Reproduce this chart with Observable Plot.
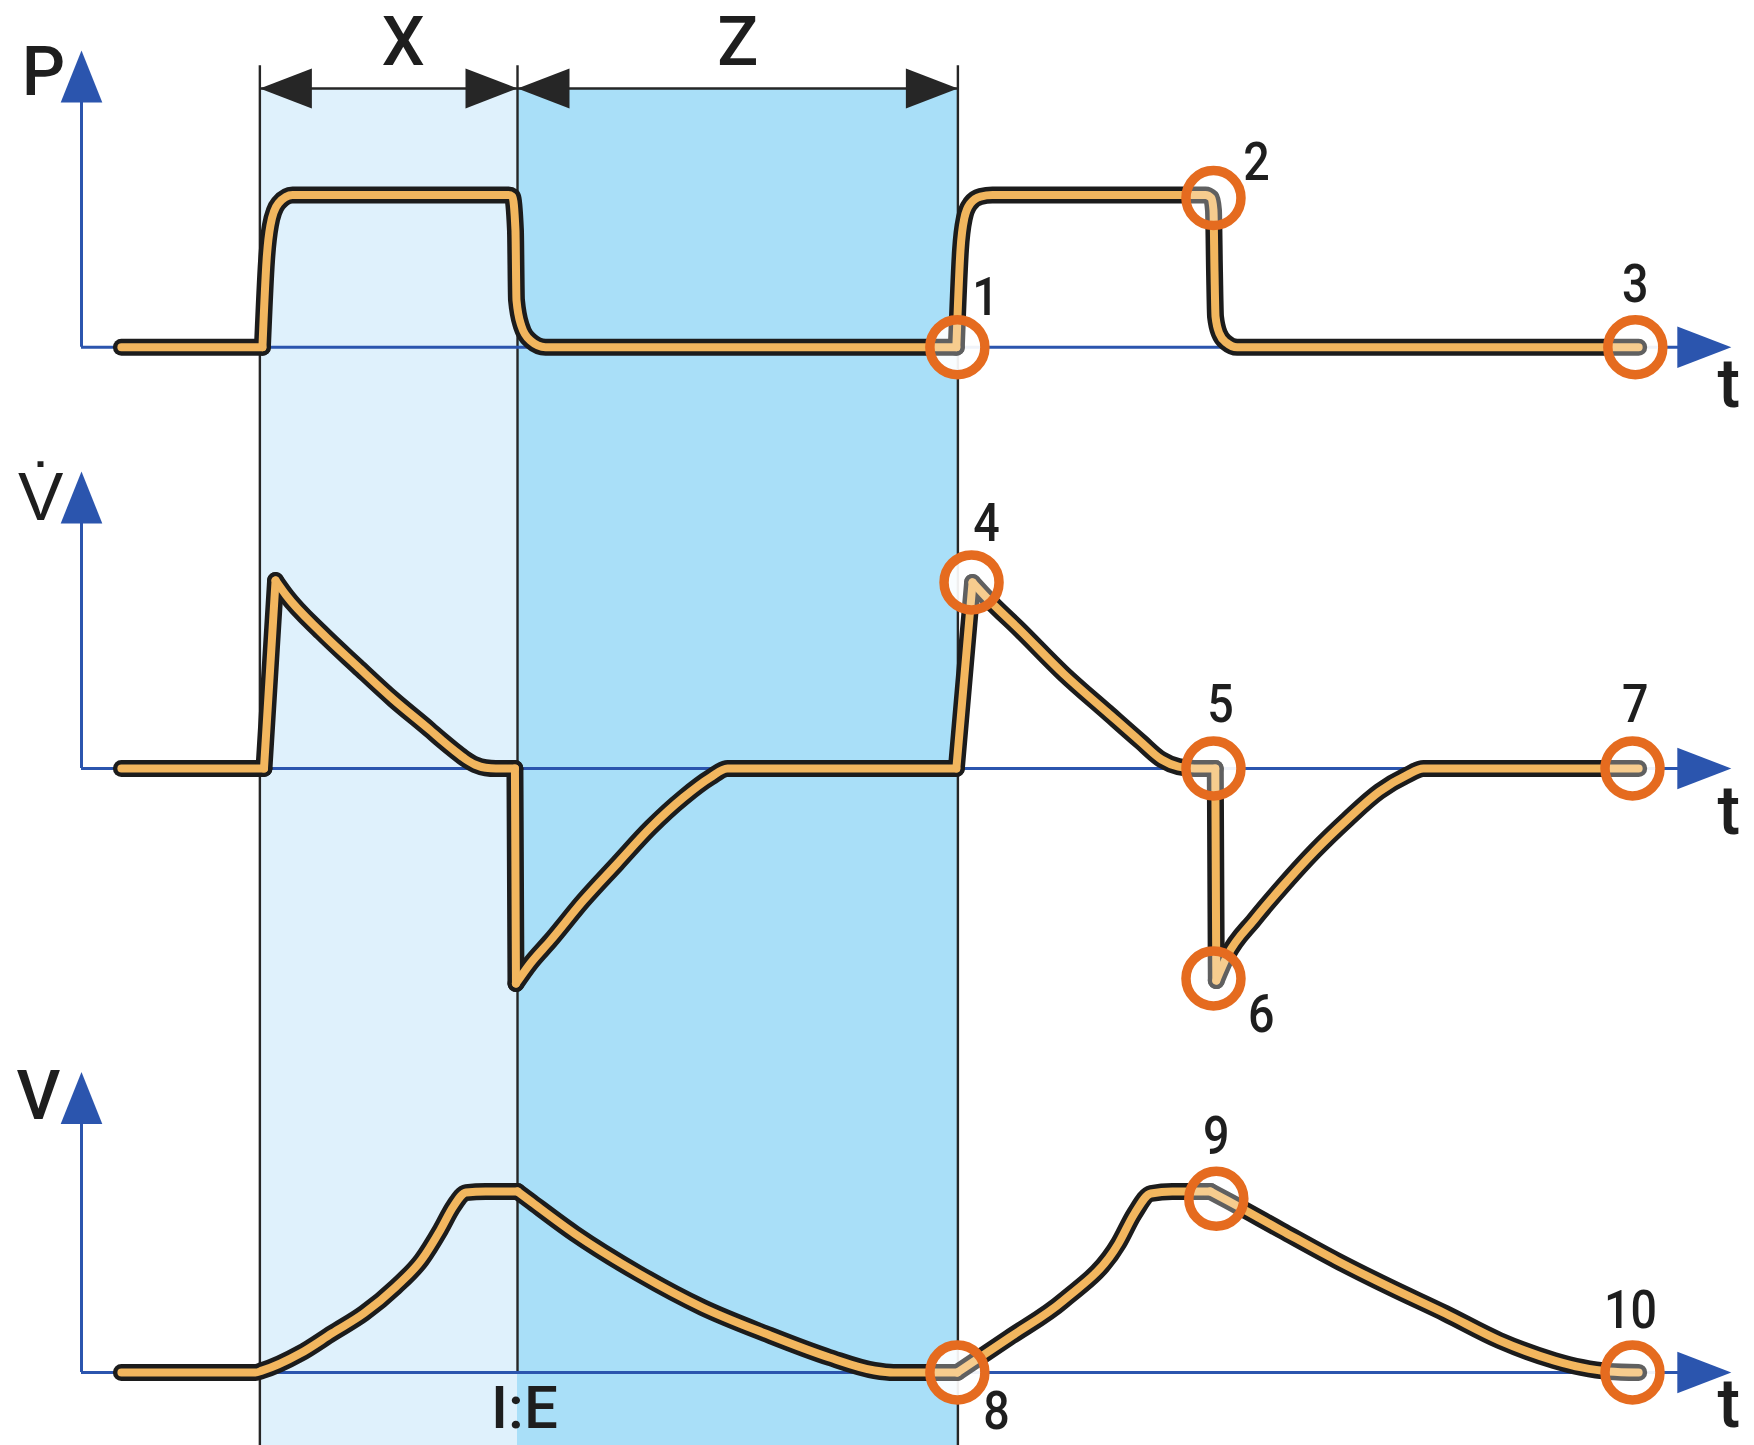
<!DOCTYPE html>
<html><head><meta charset="utf-8">
<script src="https://cdn.jsdelivr.net/npm/d3@7"></script>
<script src="https://cdn.jsdelivr.net/npm/@observablehq/plot@0.6"></script>
<style>
html,body{margin:0;padding:0;background:#fff;}
#chart{position:relative;width:1754px;height:1445px;overflow:hidden;}
#chart svg{position:absolute;left:0;top:0;}
</style></head><body><div id="chart"></div>
<script>
// ---------------- DATA ----------------
// phase boundaries (time): start of inspiration, I:E, end of expiration
const phaseT = [0.693, 1.694, 3.405];
const phaseNames = ["X", "Z"];
const phaseLabelT = [1.25, 2.55];

// pressure P(t)
const pressT = [0.155, 0.703, 0.719, 0.734, 0.765, 0.820, 1.659, 1.674, 1.686, 1.690, 1.709, 1.744, 1.803,
  3.399, 3.415, 3.430, 3.454, 3.493, 3.539, 4.367, 4.390, 4.398, 4.402, 4.406, 4.421, 4.448, 4.490, 6.05];
const pressV = [0, 0, 0.57, 0.80, 0.945, 1, 1, 0.99, 0.77, 0.31, 0.14, 0.044, 0,
  0, 0.636, 0.847, 0.945, 0.99, 1, 1, 0.98, 0.90, 0.50, 0.20, 0.09, 0.03, 0, 0];
const pressCorners = [0.703, 3.399];

// flow V̇(t)
const flowT = [0.155, 0.709, 0.754, 0.796, 0.932, 1.072, 1.212, 1.352, 1.400, 1.449, 1.490, 1.530, 1.570, 1.610, 1.684, 1.688,
  1.744, 1.822, 1.950, 2.082, 2.211, 2.339, 2.444, 2.510, 3.399, 3.462, 3.520, 3.648, 3.815, 3.986,
  4.114, 4.196, 4.262, 4.324, 4.405, 4.409, 4.452, 4.557, 4.662, 4.790, 4.918, 5.043, 5.148, 5.214, 6.05];
const flowV = [0, 0, 1.0, 0.92, 0.723, 0.543, 0.367, 0.207, 0.15, 0.095, 0.052, 0.02, 0.004, 0, 0, -1.144,
  -1.037, -0.915, -0.702, -0.505, -0.314, -0.154, -0.047, 0, 0, 0.99, 0.904, 0.734, 0.505, 0.298,
  0.144, 0.048, 0.01, 0, 0, -1.128, -0.995, -0.803, -0.633, -0.441, -0.271, -0.122, -0.037, 0, 0];
const flowCorners = [0.709, 0.754, 1.684, 1.688, 3.399, 3.462, 4.405, 4.409];

// volume V(t)
const volT = [0.155, 0.676, 0.701, 0.851, 0.974, 1.098, 1.220, 1.321, 1.395, 1.445, 1.494, 1.570, 1.694,
  1.741, 1.915, 2.164, 2.413, 2.657, 2.906, 3.081, 3.155, 3.403, 3.605, 3.815, 4.029, 4.091, 4.155,
  4.238, 4.386, 4.452, 4.662, 4.876, 5.085, 5.299, 5.509, 5.723, 5.828, 5.933, 6.05];
const volV = [0, 0, 0.01, 0.106, 0.217, 0.328, 0.472, 0.622, 0.789, 0.917, 0.994, 1.0, 1.0,
  0.95, 0.768, 0.547, 0.359, 0.215, 0.083, 0.011, 0, 0, 0.193, 0.398, 0.713, 0.878, 0.989,
  1.0, 1.0, 0.95, 0.785, 0.619, 0.470, 0.326, 0.177, 0.066, 0.028, 0.006, 0];
const volCorners = [1.694, 3.403, 4.386];

// numbered markers
const pressMarkNo = ["1", "2", "3"];
const pressMarkT = [3.403, 4.398, 6.037];
const pressMarkV = [0, 0.98, 0];
const pressLabelT = [3.512, 4.565, 6.037];
const pressLabelV = [0.32, 1.21, 0.41];

const flowMarkNo = ["4", "5", "6", "7"];
const flowMarkT = [3.458, 4.398, 4.398, 6.026];
const flowMarkV = [0.99, 0, -1.117, 0];
const flowLabelT = [3.516, 4.425, 4.584, 6.037];
const flowLabelV = [1.30, 0.335, -1.31, 0.335];

const volMarkNo = ["8", "9", "10"];
const volMarkT = [3.403, 4.409, 6.026];
const volMarkV = [0, 0.96, 0];
const volLabelT = [3.555, 4.409, 6.018];
const volLabelV = [-0.22, 1.30, 0.34];

const axisNames = ["P", "V\u0307", "V"];
const timeName = "t";
const ieLabel = "I:E";

// ---------------- LAYOUT / STYLE ----------------
const W = 1754, H = 1445;
const C = {
  bandX: "#dff1fc", bandZ: "#a9dff8", blue: "#2b55ae", ring: "#e56b1f",
  trace: "#f2b65e", outline: "#1c1c1c", rule: "#262626", text: "#1e1e1e"
};
const FONT = "Roboto, 'Liberation Sans', sans-serif";
const xOpts = {domain: [0, 6.5], range: [81, 1754], axis: null};
const panels = [
  {y: {domain: [0, 1], range: [346.7, 194.5], axis: null}, axisTop: 1.95, nameT: -0.148, nameV: 1.80, tV: -0.25},
  {y: {domain: [0, 1], range: [768, 580], axis: null}, axisTop: 1.58, nameT: -0.159, nameV: 1.44, tV: -0.23},
  {y: {domain: [0, 1], range: [1372, 1191], axis: null}, axisTop: 1.66, nameT: -0.167, nameV: 1.52, tV: -0.18}
];
const axisEndT = 6.41;
const headerLineV = 1.70, headerTopV = 1.85, headerLabelV = 1.995; // in P units

// arrowhead symbols (tip at the anchor point)
const tri = (dir) => ({
  draw(ctx, size) {
    const r = Math.sqrt(size / Math.PI);
    if (dir === "up") { ctx.moveTo(0, 0); ctx.lineTo(-0.8 * r, 2 * r); ctx.lineTo(0.8 * r, 2 * r); }
    if (dir === "right") { ctx.moveTo(0, 0); ctx.lineTo(-2 * r, -0.77 * r); ctx.lineTo(-2 * r, 0.77 * r); }
    if (dir === "left") { ctx.moveTo(0, 0); ctx.lineTo(2 * r, -0.77 * r); ctx.lineTo(2 * r, 0.77 * r); }
    ctx.closePath();
  }
});

const xS = Plot.scale({x: xOpts});
const yS = panels.map(p => Plot.scale({y: p.y}));

// split a trace into pieces at its sharp corners; each piece is smoothed on its own
function pieces(T, V, corners) {
  const out = [];
  let piece = 0;
  T.forEach((t, i) => {
    out.push({t, v: V[i], piece});
    if (corners.includes(t) && i > 0 && i < T.length - 1) {
      piece++;
      out.push({t, v: V[i], piece});
    }
  });
  return out;
}
const series = [
  pieces(pressT, pressV, pressCorners),
  pieces(flowT, flowV, flowCorners),
  pieces(volT, volV, volCorners)
];
const markers = [
  pressMarkNo.map((n, i) => ({n, t: pressMarkT[i], v: pressMarkV[i], lt: pressLabelT[i], lv: pressLabelV[i]})),
  flowMarkNo.map((n, i) => ({n, t: flowMarkT[i], v: flowMarkV[i], lt: flowLabelT[i], lv: flowLabelV[i]})),
  volMarkNo.map((n, i) => ({n, t: volMarkT[i], v: volMarkV[i], lt: volLabelT[i], lv: volLabelV[i]}))
];

const txt = {fontFamily: FONT, fontWeight: 500, fill: C.text};

function panelMarks(k) {
  const p = panels[k], ys = yS[k];
  const axisLineTop = ys.invert(ys.apply(p.axisTop) + 24);
  const axisLineEnd = xS.invert(xS.apply(axisEndT) - 24);
  const lineOpts = {x: "t", y: "v", z: "piece", curve: "monotone-x", strokeLinejoin: "round", strokeLinecap: "round"};
  return [
    Plot.ruleX([0], {y1: 0, y2: axisLineTop, stroke: C.blue, strokeWidth: 3}),
    Plot.ruleY([0], {x1: 0, x2: axisLineEnd, stroke: C.blue, strokeWidth: 3}),
    Plot.dot([{t: 0, v: p.axisTop}], {x: "t", y: "v", r: 26, symbol: tri("up"), fill: C.blue, stroke: "none"}),
    Plot.dot([{t: axisEndT, v: 0}], {x: "t", y: "v", r: 27, symbol: tri("right"), fill: C.blue, stroke: "none"}),
    Plot.text([axisNames[k]], {x: p.nameT, y: p.nameV, text: d => d, fontSize: 68, ...txt}),
    Plot.text([timeName], {x: 6.40, y: p.tV, text: d => d, fontSize: 68, ...txt}),
    Plot.dot(markers[k], {x: "t", y: "v", r: 28, fill: "white", fillOpacity: 0.9, stroke: "none"}),
    Plot.line(series[k], {...lineOpts, stroke: C.outline, strokeWidth: 17}),
    Plot.line(series[k], {...lineOpts, stroke: C.trace, strokeWidth: 8}),
    Plot.dot(markers[k], {x: "t", y: "v", r: 27.5, fill: "white", fillOpacity: 0.3, stroke: C.ring, strokeWidth: 9.5}),
    Plot.text(markers[k], {x: "lt", y: "lv", text: "n", fontSize: 53, ...txt})
  ];
}

// background: phase bands, rules, dimension arrows (in P units)
const pY = yS[0];
const bottomP = pY.invert(H);
const ieBottomP = pY.invert(yS[2].apply(0));
const bands = [
  {x1: phaseT[0], x2: phaseT[1], fill: C.bandX, name: phaseNames[0], lt: phaseLabelT[0]},
  {x1: phaseT[1], x2: phaseT[2], fill: C.bandZ, name: phaseNames[1], lt: phaseLabelT[1]}
];
const rules = [
  {t: phaseT[0], y2: bottomP}, {t: phaseT[1], y2: ieBottomP}, {t: phaseT[2], y2: bottomP}
];
const dimArrows = [
  {t: phaseT[0], dir: "left"}, {t: phaseT[1], dir: "right"},
  {t: phaseT[1], dir: "left"}, {t: phaseT[2], dir: "right"}
];

const backgroundMarks = [
  Plot.rect(bands, {x1: "x1", x2: "x2", y1: headerLineV, y2: bottomP, fill: "fill"}),
  Plot.ruleX(rules, {x: "t", y1: headerTopV, y2: "y2", stroke: C.rule, strokeWidth: 2.4}),
  Plot.ruleY([headerLineV], {x1: phaseT[0], x2: phaseT[2], stroke: C.rule, strokeWidth: 2.5}),
  Plot.dot(dimArrows.filter(d => d.dir === "left"), {x: "t", y: headerLineV, r: 26, symbol: tri("left"), fill: C.rule, stroke: "none"}),
  Plot.dot(dimArrows.filter(d => d.dir === "right"), {x: "t", y: headerLineV, r: 26, symbol: tri("right"), fill: C.rule, stroke: "none"}),
  Plot.text(bands, {x: "lt", y: headerLabelV, text: "name", fontSize: 68, ...txt})
];

const chart = document.getElementById("chart");
panels.forEach((p, k) => {
  const marks = k === 0 ? [...backgroundMarks, ...panelMarks(0)] : panelMarks(k);
  if (k === 2) {
    marks.push(Plot.text([ieLabel], {x: 1.721, y: -0.20, text: d => d, fontSize: 60, ...txt}));
  }
  const svg = Plot.plot({
    width: W, height: H, margin: 0,
    x: xOpts, y: p.y,
    style: {background: "transparent", overflow: "visible", maxWidth: "none"},
    marks
  });
  chart.appendChild(svg);
});

// narrow the digit labels a little (the reference uses a condensed face)
document.querySelectorAll("#chart text").forEach(el => {
  const s = el.textContent.trim();
  if (/^\d+$/.test(s)) {
    const len = el.getComputedTextLength();
    el.setAttribute("textLength", (len * 0.88).toFixed(1));
    el.setAttribute("lengthAdjust", "spacingAndGlyphs");
  }
});
</script>
</body></html>
